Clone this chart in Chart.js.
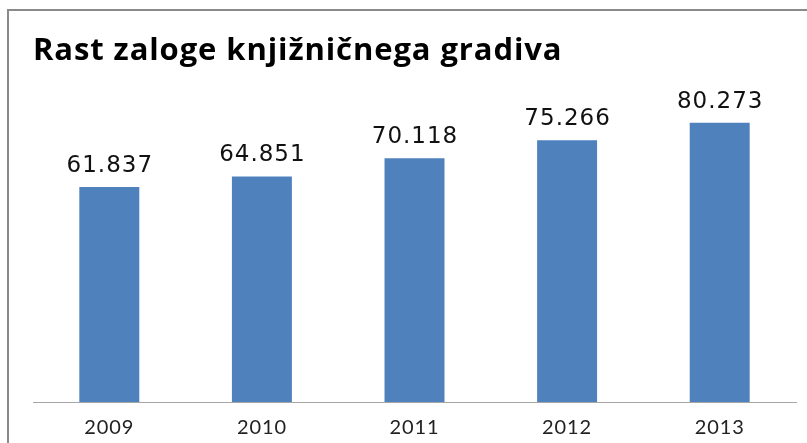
<!DOCTYPE html>
<html>
<head>
<meta charset="utf-8">
<script src="https://cdn.jsdelivr.net/npm/chart.js@4.4.1/dist/chart.umd.min.js"></script>
<style>
html,body{margin:0;padding:0;background:#fff;}
#wrap{width:807px;height:443px;position:relative;}
</style>
</head>
<body>
<div id="wrap"><canvas id="c" width="807" height="443"></canvas></div>
<script>
const titleText = "Rast zaloge knjižničnega gradiva";
const years = ["2009", "2010", "2011", "2012", "2013"];
const holdings = [61.837, 64.851, 70.118, 75.266, 80.273];
const valueLabels = ["61.837", "64.851", "70.118", "75.266", "80.273"];

const frame = {
  id: 'frame',
  beforeDraw(chart) {
    const ctx = chart.ctx;
    ctx.save();
    ctx.strokeStyle = '#8a8a8a';
    ctx.lineWidth = 2;
    ctx.beginPath();
    ctx.moveTo(8, 460);
    ctx.lineTo(8, 10);
    ctx.lineTo(830, 10);
    ctx.stroke();
    ctx.restore();
    try { ctx.letterSpacing = '0.9px'; } catch (e) {}
  },
  beforeDatasetsDraw(chart) {
    try { chart.ctx.letterSpacing = '0px'; } catch (e) {}
  }
};

const valueLabelPlugin = {
  id: 'valueLabels',
  afterDatasetsDraw(chart) {
    const ctx = chart.ctx;
    const meta = chart.getDatasetMeta(0);
    ctx.save();
    ctx.font = '23px "DejaVu Sans"';
    try { ctx.letterSpacing = '1px'; } catch (e) {}
    ctx.fillStyle = '#111';
    ctx.textAlign = 'center';
    ctx.textBaseline = 'alphabetic';
    meta.data.forEach((bar, i) => {
      ctx.fillText(valueLabels[i], bar.x + 0.5, bar.y - 15);
    });
    ctx.restore();
  }
};

new Chart(document.getElementById('c'), {
  type: 'bar',
  data: {
    labels: years,
    datasets: [{
      data: holdings,
      backgroundColor: '#4F81BD',
      borderWidth: 0,
      categoryPercentage: 1,
      barPercentage: 0.393
    }]
  },
  options: {
    responsive: false,
    animation: false,
    events: [],
    layout: { padding: { left: 33, right: 11, top: 0, bottom: 5 } },
    plugins: {
      legend: { display: false },
      tooltip: { enabled: false },
      title: {
        display: true,
        text: titleText,
        align: 'start',
        color: '#000',
        font: { family: 'Open Sans', weight: 'bold', size: 31, lineHeight: 1.2 },
        padding: { top: 33, bottom: 18.8 }
      }
    },
    scales: {
      x: {
        grid: { display: false, drawTicks: false },
        border: { display: true, color: '#a6a6a6', width: 1 },
        ticks: { color: '#222', padding: 14, font: { family: 'Lato', size: 20, lineHeight: 1.2 } },
        afterFit(scale) { scale.height = 36; }
      },
      y: {
        display: false,
        min: 0,
        max: 90
      }
    }
  },
  plugins: [frame, valueLabelPlugin]
});
</script>
</body>
</html>
